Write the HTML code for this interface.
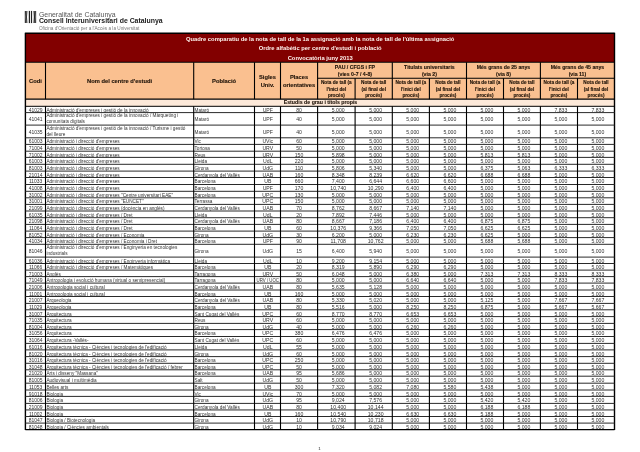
<!DOCTYPE html>
<html><head><meta charset="utf-8"><title>Quadre comparatiu</title><style>html,body{margin:0;padding:0;background:#fff;width:640px;height:452px;overflow:hidden;position:relative;font-family:"Liberation Sans",sans-serif}</style></head><body>
<svg width="640" height="452" viewBox="0 0 640 452" style="position:absolute;left:0;top:0;filter:blur(0.3px)">
<rect x="25.4" y="33.2" width="589.1" height="29.049999999999997" fill="#820000"/>
<rect x="25.4" y="62.25" width="589.1" height="36.900000000000006" fill="#fac090"/>
<rect x="25.4" y="99.15" width="589.1" height="7.1499999999999915" fill="#fde9d9"/>
<line x1="25.4" y1="33.20" x2="614.5" y2="33.20" stroke="#000" stroke-width="1.4"/>
<line x1="25.4" y1="62.25" x2="614.5" y2="62.25" stroke="#000" stroke-width="1.1"/>
<line x1="25.4" y1="99.15" x2="614.5" y2="99.15" stroke="#000" stroke-width="1.1"/>
<line x1="25.4" y1="32.70" x2="25.4" y2="430.10" stroke="#000" stroke-width="1.4"/>
<line x1="614.5" y1="32.70" x2="614.5" y2="430.10" stroke="#000" stroke-width="1.4"/>
<line x1="45.5" y1="62.25" x2="45.5" y2="99.15" stroke="#000" stroke-width="1.1"/>
<line x1="193.7" y1="62.25" x2="193.7" y2="99.15" stroke="#000" stroke-width="1.1"/>
<line x1="254.5" y1="62.25" x2="254.5" y2="99.15" stroke="#000" stroke-width="1.1"/>
<line x1="280.5" y1="62.25" x2="280.5" y2="99.15" stroke="#000" stroke-width="1.1"/>
<line x1="317.6" y1="62.25" x2="317.6" y2="99.15" stroke="#000" stroke-width="1.1"/>
<line x1="355.1" y1="78.20" x2="355.1" y2="99.15" stroke="#000" stroke-width="1.1"/>
<line x1="392.3" y1="62.25" x2="392.3" y2="99.15" stroke="#000" stroke-width="1.1"/>
<line x1="429.4" y1="78.20" x2="429.4" y2="99.15" stroke="#000" stroke-width="1.1"/>
<line x1="466.5" y1="62.25" x2="466.5" y2="99.15" stroke="#000" stroke-width="1.1"/>
<line x1="503.5" y1="78.20" x2="503.5" y2="99.15" stroke="#000" stroke-width="1.1"/>
<line x1="540.4" y1="62.25" x2="540.4" y2="99.15" stroke="#000" stroke-width="1.1"/>
<line x1="577.5" y1="78.20" x2="577.5" y2="99.15" stroke="#000" stroke-width="1.1"/>
<line x1="317.6" y1="78.20" x2="614.5" y2="78.20" stroke="#000" stroke-width="1.1"/>
<line x1="25.4" y1="106.30" x2="614.5" y2="106.30" stroke="#000" stroke-width="1.0"/>
<line x1="25.4" y1="112.60" x2="614.5" y2="112.60" stroke="#2a2a2a" stroke-width="1.0"/>
<line x1="25.4" y1="125.10" x2="614.5" y2="125.10" stroke="#2a2a2a" stroke-width="1.0"/>
<line x1="25.4" y1="137.80" x2="614.5" y2="137.80" stroke="#2a2a2a" stroke-width="1.0"/>
<line x1="25.4" y1="144.40" x2="614.5" y2="144.40" stroke="#2a2a2a" stroke-width="1.0"/>
<line x1="25.4" y1="151.20" x2="614.5" y2="151.20" stroke="#2a2a2a" stroke-width="1.0"/>
<line x1="25.4" y1="157.40" x2="614.5" y2="157.40" stroke="#2a2a2a" stroke-width="1.0"/>
<line x1="25.4" y1="164.30" x2="614.5" y2="164.30" stroke="#2a2a2a" stroke-width="1.0"/>
<line x1="25.4" y1="171.10" x2="614.5" y2="171.10" stroke="#2a2a2a" stroke-width="1.0"/>
<line x1="25.4" y1="177.50" x2="614.5" y2="177.50" stroke="#2a2a2a" stroke-width="1.0"/>
<line x1="25.4" y1="184.50" x2="614.5" y2="184.50" stroke="#2a2a2a" stroke-width="1.0"/>
<line x1="25.4" y1="191.30" x2="614.5" y2="191.30" stroke="#2a2a2a" stroke-width="1.0"/>
<line x1="25.4" y1="197.80" x2="614.5" y2="197.80" stroke="#2a2a2a" stroke-width="1.0"/>
<line x1="25.4" y1="204.40" x2="614.5" y2="204.40" stroke="#2a2a2a" stroke-width="1.0"/>
<line x1="25.4" y1="211.00" x2="614.5" y2="211.00" stroke="#2a2a2a" stroke-width="1.0"/>
<line x1="25.4" y1="217.70" x2="614.5" y2="217.70" stroke="#2a2a2a" stroke-width="1.0"/>
<line x1="25.4" y1="224.40" x2="614.5" y2="224.40" stroke="#2a2a2a" stroke-width="1.0"/>
<line x1="25.4" y1="231.10" x2="614.5" y2="231.10" stroke="#2a2a2a" stroke-width="1.0"/>
<line x1="25.4" y1="237.60" x2="614.5" y2="237.60" stroke="#2a2a2a" stroke-width="1.0"/>
<line x1="25.4" y1="244.30" x2="614.5" y2="244.30" stroke="#2a2a2a" stroke-width="1.0"/>
<line x1="25.4" y1="257.10" x2="614.5" y2="257.10" stroke="#2a2a2a" stroke-width="1.0"/>
<line x1="25.4" y1="263.50" x2="614.5" y2="263.50" stroke="#2a2a2a" stroke-width="1.0"/>
<line x1="25.4" y1="270.10" x2="614.5" y2="270.10" stroke="#2a2a2a" stroke-width="1.0"/>
<line x1="25.4" y1="276.60" x2="614.5" y2="276.60" stroke="#2a2a2a" stroke-width="1.0"/>
<line x1="25.4" y1="283.10" x2="614.5" y2="283.10" stroke="#2a2a2a" stroke-width="1.0"/>
<line x1="25.4" y1="290.00" x2="614.5" y2="290.00" stroke="#2a2a2a" stroke-width="1.0"/>
<line x1="25.4" y1="296.50" x2="614.5" y2="296.50" stroke="#2a2a2a" stroke-width="1.0"/>
<line x1="25.4" y1="303.40" x2="614.5" y2="303.40" stroke="#2a2a2a" stroke-width="1.0"/>
<line x1="25.4" y1="309.80" x2="614.5" y2="309.80" stroke="#2a2a2a" stroke-width="1.0"/>
<line x1="25.4" y1="316.60" x2="614.5" y2="316.60" stroke="#2a2a2a" stroke-width="1.0"/>
<line x1="25.4" y1="323.40" x2="614.5" y2="323.40" stroke="#2a2a2a" stroke-width="1.0"/>
<line x1="25.4" y1="329.60" x2="614.5" y2="329.60" stroke="#2a2a2a" stroke-width="1.0"/>
<line x1="25.4" y1="336.50" x2="614.5" y2="336.50" stroke="#2a2a2a" stroke-width="1.0"/>
<line x1="25.4" y1="343.40" x2="614.5" y2="343.40" stroke="#2a2a2a" stroke-width="1.0"/>
<line x1="25.4" y1="349.90" x2="614.5" y2="349.90" stroke="#2a2a2a" stroke-width="1.0"/>
<line x1="25.4" y1="356.60" x2="614.5" y2="356.60" stroke="#2a2a2a" stroke-width="1.0"/>
<line x1="25.4" y1="363.30" x2="614.5" y2="363.30" stroke="#2a2a2a" stroke-width="1.0"/>
<line x1="25.4" y1="369.80" x2="614.5" y2="369.80" stroke="#2a2a2a" stroke-width="1.0"/>
<line x1="25.4" y1="376.20" x2="614.5" y2="376.20" stroke="#2a2a2a" stroke-width="1.0"/>
<line x1="25.4" y1="383.20" x2="614.5" y2="383.20" stroke="#2a2a2a" stroke-width="1.0"/>
<line x1="25.4" y1="390.00" x2="614.5" y2="390.00" stroke="#2a2a2a" stroke-width="1.0"/>
<line x1="25.4" y1="396.40" x2="614.5" y2="396.40" stroke="#2a2a2a" stroke-width="1.0"/>
<line x1="25.4" y1="403.40" x2="614.5" y2="403.40" stroke="#2a2a2a" stroke-width="1.0"/>
<line x1="25.4" y1="409.95" x2="614.5" y2="409.95" stroke="#2a2a2a" stroke-width="1.0"/>
<line x1="25.4" y1="416.50" x2="614.5" y2="416.50" stroke="#2a2a2a" stroke-width="1.0"/>
<line x1="25.4" y1="423.10" x2="614.5" y2="423.10" stroke="#2a2a2a" stroke-width="1.0"/>
<line x1="25.4" y1="429.60" x2="614.5" y2="429.60" stroke="#000" stroke-width="1.4"/>
<line x1="45.5" y1="106.30" x2="45.5" y2="429.60" stroke="#000" stroke-width="1.1"/>
<line x1="193.7" y1="106.30" x2="193.7" y2="429.60" stroke="#000" stroke-width="1.1"/>
<line x1="254.5" y1="106.30" x2="254.5" y2="429.60" stroke="#000" stroke-width="1.1"/>
<line x1="280.5" y1="106.30" x2="280.5" y2="429.60" stroke="#000" stroke-width="1.1"/>
<line x1="317.6" y1="106.30" x2="317.6" y2="429.60" stroke="#000" stroke-width="1.1"/>
<line x1="355.1" y1="106.30" x2="355.1" y2="429.60" stroke="#000" stroke-width="1.1"/>
<line x1="392.3" y1="106.30" x2="392.3" y2="429.60" stroke="#000" stroke-width="1.1"/>
<line x1="429.4" y1="106.30" x2="429.4" y2="429.60" stroke="#000" stroke-width="1.1"/>
<line x1="466.5" y1="106.30" x2="466.5" y2="429.60" stroke="#000" stroke-width="1.1"/>
<line x1="503.5" y1="106.30" x2="503.5" y2="429.60" stroke="#000" stroke-width="1.1"/>
<line x1="540.4" y1="106.30" x2="540.4" y2="429.60" stroke="#000" stroke-width="1.1"/>
<line x1="577.5" y1="106.30" x2="577.5" y2="429.60" stroke="#000" stroke-width="1.1"/>
<g style="font-family:'Liberation Sans',sans-serif;font-weight:bold" fill="#fff2ec" font-size="5.8" text-anchor="middle">
<text x="320.2" y="41">Quadre comparatiu de la nota de tall de la 1a assignació amb la nota de tall de l'última assignació</text>
<text x="320.2" y="50.3">Ordre alfabètic per centre d'estudi i població</text>
<text x="320.2" y="60">Convocatòria juny 2013</text>
</g>
<g style="font-family:'Liberation Sans',sans-serif;font-weight:bold" fill="#1e1208" stroke="#1e1208" stroke-width="0.12" text-anchor="middle" font-size="5.75">
<text x="35.45" y="82.9">Codi</text>
<text x="119.60" y="82.9">Nom del centre d'estudi</text>
<text x="224.10" y="82.9">Població</text>
<text x="267.50" y="79.3">Sigles</text><text x="267.50" y="86.5">Univ.</text>
<text x="299.05" y="79.3">Places</text><text x="299.05" y="86.5">orientatives</text>
</g>
<g style="font-family:'Liberation Sans',sans-serif;font-weight:bold" fill="#1e1208" stroke="#1e1208" stroke-width="0.12" text-anchor="middle" font-size="5.2">
<text x="354.95" y="68.9">PAU / CFGS i FP</text><text x="354.95" y="76.0">(vies 0-7 / 4-8)</text>
<text x="429.40" y="68.9">Titulats universitaris</text><text x="429.40" y="76.0">(via 2)</text>
<text x="503.45" y="68.9">Més grans de 25 anys</text><text x="503.45" y="76.0">(via 8)</text>
<text x="577.45" y="68.9">Més grans de 45 anys</text><text x="577.45" y="76.0">(via 11)</text>
</g>
<g style="font-family:'Liberation Sans',sans-serif;font-weight:bold" fill="#1e1208" stroke="#1e1208" stroke-width="0.12" text-anchor="middle" font-size="4.7">
<text x="336.35" y="84.25">Nota de tall (a</text>
<text x="336.35" y="90.69">l'inici del</text>
<text x="336.35" y="97.13">procés)</text>
<text x="373.70" y="84.25">Nota de tall</text>
<text x="373.70" y="90.69">(al final del</text>
<text x="373.70" y="97.13">procés)</text>
<text x="410.85" y="84.25">Nota de tall (a</text>
<text x="410.85" y="90.69">l'inici del</text>
<text x="410.85" y="97.13">procés)</text>
<text x="447.95" y="84.25">Nota de tall</text>
<text x="447.95" y="90.69">(al final del</text>
<text x="447.95" y="97.13">procés)</text>
<text x="485.00" y="84.25">Nota de tall (a</text>
<text x="485.00" y="90.69">l'inici del</text>
<text x="485.00" y="97.13">procés)</text>
<text x="521.95" y="84.25">Nota de tall</text>
<text x="521.95" y="90.69">(al final del</text>
<text x="521.95" y="97.13">procés)</text>
<text x="558.95" y="84.25">Nota de tall (a</text>
<text x="558.95" y="90.69">l'inici del</text>
<text x="558.95" y="97.13">procés)</text>
<text x="596.00" y="84.25">Nota de tall</text>
<text x="596.00" y="90.69">(al final del</text>
<text x="596.00" y="97.13">procés)</text>
</g>
<text x="320.5" y="104.2" style="font-family:'Liberation Sans',sans-serif;font-weight:bold" fill="#1e1208" stroke="#1e1208" stroke-width="0.1" text-anchor="middle" font-size="5.24">Estudis de grau i títols propis</text>
<g style="font-family:'Liberation Sans',sans-serif" fill="#333" stroke="#333" stroke-width="0.0" font-size="4.7">
<text transform="translate(35.65,111.75) scale(1.06,1)" text-anchor="middle">41029</text>
<text x="46.4" y="111.75">Administració d'empreses i gestió de la innovació</text>
<text x="194.5" y="111.75">Mataró</text>
<text transform="translate(267.80,111.75) scale(1.1,1)" text-anchor="middle">UPF</text>
<text transform="translate(299.05,111.75) scale(1.1,1)" text-anchor="middle">80</text>
<text transform="translate(338.25,111.75) scale(1.1,1)" text-anchor="middle">5,000</text>
<text transform="translate(375.60,111.75) scale(1.1,1)" text-anchor="middle">5,000</text>
<text transform="translate(412.75,111.75) scale(1.1,1)" text-anchor="middle">5,000</text>
<text transform="translate(449.85,111.75) scale(1.1,1)" text-anchor="middle">5,000</text>
<text transform="translate(486.90,111.75) scale(1.1,1)" text-anchor="middle">5,000</text>
<text transform="translate(523.85,111.75) scale(1.1,1)" text-anchor="middle">5,000</text>
<text transform="translate(560.85,111.75) scale(1.1,1)" text-anchor="middle">7,833</text>
<text transform="translate(597.90,111.75) scale(1.1,1)" text-anchor="middle">7,833</text>
<text transform="translate(35.65,121.15) scale(1.06,1)" text-anchor="middle">41041</text>
<text x="46.4" y="117.38">Administració d'empreses i gestió de la innovació / Màrqueting i</text>
<text x="46.4" y="123.18">comunitats digitals</text>
<text x="194.5" y="121.15">Mataró</text>
<text transform="translate(267.80,121.15) scale(1.1,1)" text-anchor="middle">UPF</text>
<text transform="translate(299.05,121.15) scale(1.1,1)" text-anchor="middle">40</text>
<text transform="translate(338.25,121.15) scale(1.1,1)" text-anchor="middle">5,000</text>
<text transform="translate(375.60,121.15) scale(1.1,1)" text-anchor="middle">5,000</text>
<text transform="translate(412.75,121.15) scale(1.1,1)" text-anchor="middle">5,000</text>
<text transform="translate(449.85,121.15) scale(1.1,1)" text-anchor="middle">5,000</text>
<text transform="translate(486.90,121.15) scale(1.1,1)" text-anchor="middle">5,000</text>
<text transform="translate(523.85,121.15) scale(1.1,1)" text-anchor="middle">5,000</text>
<text transform="translate(560.85,121.15) scale(1.1,1)" text-anchor="middle">5,000</text>
<text transform="translate(597.90,121.15) scale(1.1,1)" text-anchor="middle">5,000</text>
<text transform="translate(35.65,133.75) scale(1.06,1)" text-anchor="middle">41035</text>
<text x="46.4" y="129.98">Administració d'empreses i gestió de la innovació / Turisme i gestió</text>
<text x="46.4" y="135.78">del lleure</text>
<text x="194.5" y="133.75">Mataró</text>
<text transform="translate(267.80,133.75) scale(1.1,1)" text-anchor="middle">UPF</text>
<text transform="translate(299.05,133.75) scale(1.1,1)" text-anchor="middle">40</text>
<text transform="translate(338.25,133.75) scale(1.1,1)" text-anchor="middle">5,000</text>
<text transform="translate(375.60,133.75) scale(1.1,1)" text-anchor="middle">5,000</text>
<text transform="translate(412.75,133.75) scale(1.1,1)" text-anchor="middle">5,000</text>
<text transform="translate(449.85,133.75) scale(1.1,1)" text-anchor="middle">5,000</text>
<text transform="translate(486.90,133.75) scale(1.1,1)" text-anchor="middle">5,000</text>
<text transform="translate(523.85,133.75) scale(1.1,1)" text-anchor="middle">5,000</text>
<text transform="translate(560.85,133.75) scale(1.1,1)" text-anchor="middle">5,000</text>
<text transform="translate(597.90,133.75) scale(1.1,1)" text-anchor="middle">5,000</text>
<text transform="translate(35.65,143.40) scale(1.06,1)" text-anchor="middle">61003</text>
<text x="46.4" y="143.40">Administració i direcció d'empreses</text>
<text x="194.5" y="143.40">Vic</text>
<text transform="translate(267.80,143.40) scale(1.1,1)" text-anchor="middle">UVic</text>
<text transform="translate(299.05,143.40) scale(1.1,1)" text-anchor="middle">60</text>
<text transform="translate(338.25,143.40) scale(1.1,1)" text-anchor="middle">5,000</text>
<text transform="translate(375.60,143.40) scale(1.1,1)" text-anchor="middle">5,000</text>
<text transform="translate(412.75,143.40) scale(1.1,1)" text-anchor="middle">5,000</text>
<text transform="translate(449.85,143.40) scale(1.1,1)" text-anchor="middle">5,000</text>
<text transform="translate(486.90,143.40) scale(1.1,1)" text-anchor="middle">5,000</text>
<text transform="translate(523.85,143.40) scale(1.1,1)" text-anchor="middle">5,000</text>
<text transform="translate(560.85,143.40) scale(1.1,1)" text-anchor="middle">5,000</text>
<text transform="translate(597.90,143.40) scale(1.1,1)" text-anchor="middle">5,000</text>
<text transform="translate(35.65,150.10) scale(1.06,1)" text-anchor="middle">71004</text>
<text x="46.4" y="150.10">Administració i direcció d'empreses</text>
<text x="194.5" y="150.10">Tortosa</text>
<text transform="translate(267.80,150.10) scale(1.1,1)" text-anchor="middle">URV</text>
<text transform="translate(299.05,150.10) scale(1.1,1)" text-anchor="middle">50</text>
<text transform="translate(338.25,150.10) scale(1.1,1)" text-anchor="middle">5,000</text>
<text transform="translate(375.60,150.10) scale(1.1,1)" text-anchor="middle">5,000</text>
<text transform="translate(412.75,150.10) scale(1.1,1)" text-anchor="middle">5,000</text>
<text transform="translate(449.85,150.10) scale(1.1,1)" text-anchor="middle">5,000</text>
<text transform="translate(486.90,150.10) scale(1.1,1)" text-anchor="middle">5,000</text>
<text transform="translate(523.85,150.10) scale(1.1,1)" text-anchor="middle">5,000</text>
<text transform="translate(560.85,150.10) scale(1.1,1)" text-anchor="middle">5,000</text>
<text transform="translate(597.90,150.10) scale(1.1,1)" text-anchor="middle">5,000</text>
<text transform="translate(35.65,156.60) scale(1.06,1)" text-anchor="middle">71002</text>
<text x="46.4" y="156.60">Administració i direcció d'empreses</text>
<text x="194.5" y="156.60">Reus</text>
<text transform="translate(267.80,156.60) scale(1.1,1)" text-anchor="middle">URV</text>
<text transform="translate(299.05,156.60) scale(1.1,1)" text-anchor="middle">150</text>
<text transform="translate(338.25,156.60) scale(1.1,1)" text-anchor="middle">5,898</text>
<text transform="translate(375.60,156.60) scale(1.1,1)" text-anchor="middle">5,000</text>
<text transform="translate(412.75,156.60) scale(1.1,1)" text-anchor="middle">5,000</text>
<text transform="translate(449.85,156.60) scale(1.1,1)" text-anchor="middle">5,000</text>
<text transform="translate(486.90,156.60) scale(1.1,1)" text-anchor="middle">5,813</text>
<text transform="translate(523.85,156.60) scale(1.1,1)" text-anchor="middle">5,813</text>
<text transform="translate(560.85,156.60) scale(1.1,1)" text-anchor="middle">5,000</text>
<text transform="translate(597.90,156.60) scale(1.1,1)" text-anchor="middle">5,000</text>
<text transform="translate(35.65,163.15) scale(1.06,1)" text-anchor="middle">61003</text>
<text x="46.4" y="163.15">Administració i direcció d'empreses</text>
<text x="194.5" y="163.15">Lleida</text>
<text transform="translate(267.80,163.15) scale(1.1,1)" text-anchor="middle">UdL</text>
<text transform="translate(299.05,163.15) scale(1.1,1)" text-anchor="middle">220</text>
<text transform="translate(338.25,163.15) scale(1.1,1)" text-anchor="middle">5,000</text>
<text transform="translate(375.60,163.15) scale(1.1,1)" text-anchor="middle">5,000</text>
<text transform="translate(412.75,163.15) scale(1.1,1)" text-anchor="middle">5,000</text>
<text transform="translate(449.85,163.15) scale(1.1,1)" text-anchor="middle">5,000</text>
<text transform="translate(486.90,163.15) scale(1.1,1)" text-anchor="middle">5,000</text>
<text transform="translate(523.85,163.15) scale(1.1,1)" text-anchor="middle">5,000</text>
<text transform="translate(560.85,163.15) scale(1.1,1)" text-anchor="middle">5,000</text>
<text transform="translate(597.90,163.15) scale(1.1,1)" text-anchor="middle">5,000</text>
<text transform="translate(35.65,170.00) scale(1.06,1)" text-anchor="middle">81003</text>
<text x="46.4" y="170.00">Administració i direcció d'empreses</text>
<text x="194.5" y="170.00">Girona</text>
<text transform="translate(267.80,170.00) scale(1.1,1)" text-anchor="middle">UdG</text>
<text transform="translate(299.05,170.00) scale(1.1,1)" text-anchor="middle">110</text>
<text transform="translate(338.25,170.00) scale(1.1,1)" text-anchor="middle">5,806</text>
<text transform="translate(375.60,170.00) scale(1.1,1)" text-anchor="middle">5,340</text>
<text transform="translate(412.75,170.00) scale(1.1,1)" text-anchor="middle">5,000</text>
<text transform="translate(449.85,170.00) scale(1.1,1)" text-anchor="middle">5,000</text>
<text transform="translate(486.90,170.00) scale(1.1,1)" text-anchor="middle">6,375</text>
<text transform="translate(523.85,170.00) scale(1.1,1)" text-anchor="middle">5,063</text>
<text transform="translate(560.85,170.00) scale(1.1,1)" text-anchor="middle">6,333</text>
<text transform="translate(597.90,170.00) scale(1.1,1)" text-anchor="middle">6,333</text>
<text transform="translate(35.65,176.60) scale(1.06,1)" text-anchor="middle">21014</text>
<text x="46.4" y="176.60">Administració i direcció d'empreses</text>
<text x="194.5" y="176.60">Cerdanyola del Vallès</text>
<text transform="translate(267.80,176.60) scale(1.1,1)" text-anchor="middle">UAB</text>
<text transform="translate(299.05,176.60) scale(1.1,1)" text-anchor="middle">160</text>
<text transform="translate(338.25,176.60) scale(1.1,1)" text-anchor="middle">8,348</text>
<text transform="translate(375.60,176.60) scale(1.1,1)" text-anchor="middle">8,239</text>
<text transform="translate(412.75,176.60) scale(1.1,1)" text-anchor="middle">6,620</text>
<text transform="translate(449.85,176.60) scale(1.1,1)" text-anchor="middle">6,620</text>
<text transform="translate(486.90,176.60) scale(1.1,1)" text-anchor="middle">6,688</text>
<text transform="translate(523.85,176.60) scale(1.1,1)" text-anchor="middle">6,688</text>
<text transform="translate(560.85,176.60) scale(1.1,1)" text-anchor="middle">5,000</text>
<text transform="translate(597.90,176.60) scale(1.1,1)" text-anchor="middle">5,000</text>
<text transform="translate(35.65,183.30) scale(1.06,1)" text-anchor="middle">11033</text>
<text x="46.4" y="183.30">Administració i direcció d'empreses</text>
<text x="194.5" y="183.30">Barcelona</text>
<text transform="translate(267.80,183.30) scale(1.1,1)" text-anchor="middle">UB</text>
<text transform="translate(299.05,183.30) scale(1.1,1)" text-anchor="middle">660</text>
<text transform="translate(338.25,183.30) scale(1.1,1)" text-anchor="middle">7,400</text>
<text transform="translate(375.60,183.30) scale(1.1,1)" text-anchor="middle">6,644</text>
<text transform="translate(412.75,183.30) scale(1.1,1)" text-anchor="middle">6,600</text>
<text transform="translate(449.85,183.30) scale(1.1,1)" text-anchor="middle">6,600</text>
<text transform="translate(486.90,183.30) scale(1.1,1)" text-anchor="middle">5,000</text>
<text transform="translate(523.85,183.30) scale(1.1,1)" text-anchor="middle">5,000</text>
<text transform="translate(560.85,183.30) scale(1.1,1)" text-anchor="middle">5,000</text>
<text transform="translate(597.90,183.30) scale(1.1,1)" text-anchor="middle">5,000</text>
<text transform="translate(35.65,190.20) scale(1.06,1)" text-anchor="middle">41008</text>
<text x="46.4" y="190.20">Administració i direcció d'empreses</text>
<text x="194.5" y="190.20">Barcelona</text>
<text transform="translate(267.80,190.20) scale(1.1,1)" text-anchor="middle">UPF</text>
<text transform="translate(299.05,190.20) scale(1.1,1)" text-anchor="middle">170</text>
<text transform="translate(338.25,190.20) scale(1.1,1)" text-anchor="middle">10,740</text>
<text transform="translate(375.60,190.20) scale(1.1,1)" text-anchor="middle">10,290</text>
<text transform="translate(412.75,190.20) scale(1.1,1)" text-anchor="middle">6,400</text>
<text transform="translate(449.85,190.20) scale(1.1,1)" text-anchor="middle">6,400</text>
<text transform="translate(486.90,190.20) scale(1.1,1)" text-anchor="middle">5,000</text>
<text transform="translate(523.85,190.20) scale(1.1,1)" text-anchor="middle">5,000</text>
<text transform="translate(560.85,190.20) scale(1.1,1)" text-anchor="middle">5,000</text>
<text transform="translate(597.90,190.20) scale(1.1,1)" text-anchor="middle">5,000</text>
<text transform="translate(35.65,196.85) scale(1.06,1)" text-anchor="middle">31002</text>
<text x="46.4" y="196.85">Administració i direcció d'empreses "Centre universitari EAE"</text>
<text x="194.5" y="196.85">Barcelona</text>
<text transform="translate(267.80,196.85) scale(1.1,1)" text-anchor="middle">UPC</text>
<text transform="translate(299.05,196.85) scale(1.1,1)" text-anchor="middle">130</text>
<text transform="translate(338.25,196.85) scale(1.1,1)" text-anchor="middle">5,000</text>
<text transform="translate(375.60,196.85) scale(1.1,1)" text-anchor="middle">5,000</text>
<text transform="translate(412.75,196.85) scale(1.1,1)" text-anchor="middle">5,000</text>
<text transform="translate(449.85,196.85) scale(1.1,1)" text-anchor="middle">5,000</text>
<text transform="translate(486.90,196.85) scale(1.1,1)" text-anchor="middle">5,000</text>
<text transform="translate(523.85,196.85) scale(1.1,1)" text-anchor="middle">5,000</text>
<text transform="translate(560.85,196.85) scale(1.1,1)" text-anchor="middle">5,000</text>
<text transform="translate(597.90,196.85) scale(1.1,1)" text-anchor="middle">5,000</text>
<text transform="translate(35.65,203.40) scale(1.06,1)" text-anchor="middle">31001</text>
<text x="46.4" y="203.40">Administració i direcció d'empreses "EUNCET"</text>
<text x="194.5" y="203.40">Terrassa</text>
<text transform="translate(267.80,203.40) scale(1.1,1)" text-anchor="middle">UPC</text>
<text transform="translate(299.05,203.40) scale(1.1,1)" text-anchor="middle">150</text>
<text transform="translate(338.25,203.40) scale(1.1,1)" text-anchor="middle">5,000</text>
<text transform="translate(375.60,203.40) scale(1.1,1)" text-anchor="middle">5,000</text>
<text transform="translate(412.75,203.40) scale(1.1,1)" text-anchor="middle">5,000</text>
<text transform="translate(449.85,203.40) scale(1.1,1)" text-anchor="middle">5,000</text>
<text transform="translate(486.90,203.40) scale(1.1,1)" text-anchor="middle">5,000</text>
<text transform="translate(523.85,203.40) scale(1.1,1)" text-anchor="middle">5,000</text>
<text transform="translate(560.85,203.40) scale(1.1,1)" text-anchor="middle">5,000</text>
<text transform="translate(597.90,203.40) scale(1.1,1)" text-anchor="middle">5,000</text>
<text transform="translate(35.65,210.00) scale(1.06,1)" text-anchor="middle">21099</text>
<text x="46.4" y="210.00">Administració i direcció d'empreses (docència en anglès)</text>
<text x="194.5" y="210.00">Cerdanyola del Vallès</text>
<text transform="translate(267.80,210.00) scale(1.1,1)" text-anchor="middle">UAB</text>
<text transform="translate(299.05,210.00) scale(1.1,1)" text-anchor="middle">70</text>
<text transform="translate(338.25,210.00) scale(1.1,1)" text-anchor="middle">8,762</text>
<text transform="translate(375.60,210.00) scale(1.1,1)" text-anchor="middle">8,667</text>
<text transform="translate(412.75,210.00) scale(1.1,1)" text-anchor="middle">7,140</text>
<text transform="translate(449.85,210.00) scale(1.1,1)" text-anchor="middle">7,140</text>
<text transform="translate(486.90,210.00) scale(1.1,1)" text-anchor="middle">5,000</text>
<text transform="translate(523.85,210.00) scale(1.1,1)" text-anchor="middle">5,000</text>
<text transform="translate(560.85,210.00) scale(1.1,1)" text-anchor="middle">5,000</text>
<text transform="translate(597.90,210.00) scale(1.1,1)" text-anchor="middle">5,000</text>
<text transform="translate(35.65,216.65) scale(1.06,1)" text-anchor="middle">61035</text>
<text x="46.4" y="216.65">Administració i direcció d'empreses / Dret</text>
<text x="194.5" y="216.65">Lleida</text>
<text transform="translate(267.80,216.65) scale(1.1,1)" text-anchor="middle">UdL</text>
<text transform="translate(299.05,216.65) scale(1.1,1)" text-anchor="middle">20</text>
<text transform="translate(338.25,216.65) scale(1.1,1)" text-anchor="middle">7,892</text>
<text transform="translate(375.60,216.65) scale(1.1,1)" text-anchor="middle">7,446</text>
<text transform="translate(412.75,216.65) scale(1.1,1)" text-anchor="middle">5,000</text>
<text transform="translate(449.85,216.65) scale(1.1,1)" text-anchor="middle">5,000</text>
<text transform="translate(486.90,216.65) scale(1.1,1)" text-anchor="middle">5,000</text>
<text transform="translate(523.85,216.65) scale(1.1,1)" text-anchor="middle">5,000</text>
<text transform="translate(560.85,216.65) scale(1.1,1)" text-anchor="middle">5,000</text>
<text transform="translate(597.90,216.65) scale(1.1,1)" text-anchor="middle">5,000</text>
<text transform="translate(35.65,223.35) scale(1.06,1)" text-anchor="middle">21098</text>
<text x="46.4" y="223.35">Administració i direcció d'empreses / Dret</text>
<text x="194.5" y="223.35">Cerdanyola del Vallès</text>
<text transform="translate(267.80,223.35) scale(1.1,1)" text-anchor="middle">UAB</text>
<text transform="translate(299.05,223.35) scale(1.1,1)" text-anchor="middle">80</text>
<text transform="translate(338.25,223.35) scale(1.1,1)" text-anchor="middle">8,667</text>
<text transform="translate(375.60,223.35) scale(1.1,1)" text-anchor="middle">7,186</text>
<text transform="translate(412.75,223.35) scale(1.1,1)" text-anchor="middle">6,400</text>
<text transform="translate(449.85,223.35) scale(1.1,1)" text-anchor="middle">6,400</text>
<text transform="translate(486.90,223.35) scale(1.1,1)" text-anchor="middle">6,875</text>
<text transform="translate(523.85,223.35) scale(1.1,1)" text-anchor="middle">6,875</text>
<text transform="translate(560.85,223.35) scale(1.1,1)" text-anchor="middle">5,000</text>
<text transform="translate(597.90,223.35) scale(1.1,1)" text-anchor="middle">5,000</text>
<text transform="translate(35.65,230.05) scale(1.06,1)" text-anchor="middle">11064</text>
<text x="46.4" y="230.05">Administració i direcció d'empreses / Dret</text>
<text x="194.5" y="230.05">Barcelona</text>
<text transform="translate(267.80,230.05) scale(1.1,1)" text-anchor="middle">UB</text>
<text transform="translate(299.05,230.05) scale(1.1,1)" text-anchor="middle">60</text>
<text transform="translate(338.25,230.05) scale(1.1,1)" text-anchor="middle">10,376</text>
<text transform="translate(375.60,230.05) scale(1.1,1)" text-anchor="middle">9,366</text>
<text transform="translate(412.75,230.05) scale(1.1,1)" text-anchor="middle">7,050</text>
<text transform="translate(449.85,230.05) scale(1.1,1)" text-anchor="middle">7,050</text>
<text transform="translate(486.90,230.05) scale(1.1,1)" text-anchor="middle">6,625</text>
<text transform="translate(523.85,230.05) scale(1.1,1)" text-anchor="middle">6,625</text>
<text transform="translate(560.85,230.05) scale(1.1,1)" text-anchor="middle">5,000</text>
<text transform="translate(597.90,230.05) scale(1.1,1)" text-anchor="middle">5,000</text>
<text transform="translate(35.65,236.65) scale(1.06,1)" text-anchor="middle">81052</text>
<text x="46.4" y="236.65">Administració i direcció d'empreses / Economia</text>
<text x="194.5" y="236.65">Girona</text>
<text transform="translate(267.80,236.65) scale(1.1,1)" text-anchor="middle">UdG</text>
<text transform="translate(299.05,236.65) scale(1.1,1)" text-anchor="middle">30</text>
<text transform="translate(338.25,236.65) scale(1.1,1)" text-anchor="middle">6,200</text>
<text transform="translate(375.60,236.65) scale(1.1,1)" text-anchor="middle">5,000</text>
<text transform="translate(412.75,236.65) scale(1.1,1)" text-anchor="middle">6,230</text>
<text transform="translate(449.85,236.65) scale(1.1,1)" text-anchor="middle">6,230</text>
<text transform="translate(486.90,236.65) scale(1.1,1)" text-anchor="middle">6,625</text>
<text transform="translate(523.85,236.65) scale(1.1,1)" text-anchor="middle">5,000</text>
<text transform="translate(560.85,236.65) scale(1.1,1)" text-anchor="middle">5,000</text>
<text transform="translate(597.90,236.65) scale(1.1,1)" text-anchor="middle">5,000</text>
<text transform="translate(35.65,243.25) scale(1.06,1)" text-anchor="middle">41034</text>
<text x="46.4" y="243.25">Administració i direcció d'empreses / Economia i Dret</text>
<text x="194.5" y="243.25">Barcelona</text>
<text transform="translate(267.80,243.25) scale(1.1,1)" text-anchor="middle">UPF</text>
<text transform="translate(299.05,243.25) scale(1.1,1)" text-anchor="middle">90</text>
<text transform="translate(338.25,243.25) scale(1.1,1)" text-anchor="middle">11,708</text>
<text transform="translate(375.60,243.25) scale(1.1,1)" text-anchor="middle">10,762</text>
<text transform="translate(412.75,243.25) scale(1.1,1)" text-anchor="middle">5,000</text>
<text transform="translate(449.85,243.25) scale(1.1,1)" text-anchor="middle">5,000</text>
<text transform="translate(486.90,243.25) scale(1.1,1)" text-anchor="middle">5,688</text>
<text transform="translate(523.85,243.25) scale(1.1,1)" text-anchor="middle">5,688</text>
<text transform="translate(560.85,243.25) scale(1.1,1)" text-anchor="middle">5,000</text>
<text transform="translate(597.90,243.25) scale(1.1,1)" text-anchor="middle">5,000</text>
<text transform="translate(35.65,253.00) scale(1.06,1)" text-anchor="middle">81046</text>
<text x="46.4" y="249.23">Administració i direcció d'empreses / Enginyeria en tecnologies</text>
<text x="46.4" y="255.03">industrials</text>
<text x="194.5" y="253.00">Girona</text>
<text transform="translate(267.80,253.00) scale(1.1,1)" text-anchor="middle">UdG</text>
<text transform="translate(299.05,253.00) scale(1.1,1)" text-anchor="middle">15</text>
<text transform="translate(338.25,253.00) scale(1.1,1)" text-anchor="middle">6,400</text>
<text transform="translate(375.60,253.00) scale(1.1,1)" text-anchor="middle">5,940</text>
<text transform="translate(412.75,253.00) scale(1.1,1)" text-anchor="middle">5,000</text>
<text transform="translate(449.85,253.00) scale(1.1,1)" text-anchor="middle">5,000</text>
<text transform="translate(486.90,253.00) scale(1.1,1)" text-anchor="middle">5,000</text>
<text transform="translate(523.85,253.00) scale(1.1,1)" text-anchor="middle">5,000</text>
<text transform="translate(560.85,253.00) scale(1.1,1)" text-anchor="middle">5,000</text>
<text transform="translate(597.90,253.00) scale(1.1,1)" text-anchor="middle">5,000</text>
<text transform="translate(35.65,262.60) scale(1.06,1)" text-anchor="middle">61036</text>
<text x="46.4" y="262.60">Administració i direcció d'empreses / Enginyeria informàtica</text>
<text x="194.5" y="262.60">Lleida</text>
<text transform="translate(267.80,262.60) scale(1.1,1)" text-anchor="middle">UdL</text>
<text transform="translate(299.05,262.60) scale(1.1,1)" text-anchor="middle">10</text>
<text transform="translate(338.25,262.60) scale(1.1,1)" text-anchor="middle">9,200</text>
<text transform="translate(375.60,262.60) scale(1.1,1)" text-anchor="middle">9,154</text>
<text transform="translate(412.75,262.60) scale(1.1,1)" text-anchor="middle">5,000</text>
<text transform="translate(449.85,262.60) scale(1.1,1)" text-anchor="middle">5,000</text>
<text transform="translate(486.90,262.60) scale(1.1,1)" text-anchor="middle">5,000</text>
<text transform="translate(523.85,262.60) scale(1.1,1)" text-anchor="middle">5,000</text>
<text transform="translate(560.85,262.60) scale(1.1,1)" text-anchor="middle">5,000</text>
<text transform="translate(597.90,262.60) scale(1.1,1)" text-anchor="middle">5,000</text>
<text transform="translate(35.65,269.10) scale(1.06,1)" text-anchor="middle">11066</text>
<text x="46.4" y="269.10">Administració i direcció d'empreses / Matemàtiques</text>
<text x="194.5" y="269.10">Barcelona</text>
<text transform="translate(267.80,269.10) scale(1.1,1)" text-anchor="middle">UB</text>
<text transform="translate(299.05,269.10) scale(1.1,1)" text-anchor="middle">20</text>
<text transform="translate(338.25,269.10) scale(1.1,1)" text-anchor="middle">8,319</text>
<text transform="translate(375.60,269.10) scale(1.1,1)" text-anchor="middle">5,890</text>
<text transform="translate(412.75,269.10) scale(1.1,1)" text-anchor="middle">6,290</text>
<text transform="translate(449.85,269.10) scale(1.1,1)" text-anchor="middle">6,290</text>
<text transform="translate(486.90,269.10) scale(1.1,1)" text-anchor="middle">5,000</text>
<text transform="translate(523.85,269.10) scale(1.1,1)" text-anchor="middle">5,000</text>
<text transform="translate(560.85,269.10) scale(1.1,1)" text-anchor="middle">5,000</text>
<text transform="translate(597.90,269.10) scale(1.1,1)" text-anchor="middle">5,000</text>
<text transform="translate(35.65,275.65) scale(1.06,1)" text-anchor="middle">71003</text>
<text x="46.4" y="275.65">Anglès</text>
<text x="194.5" y="275.65">Tarragona</text>
<text transform="translate(267.80,275.65) scale(1.1,1)" text-anchor="middle">URV</text>
<text transform="translate(299.05,275.65) scale(1.1,1)" text-anchor="middle">50</text>
<text transform="translate(338.25,275.65) scale(1.1,1)" text-anchor="middle">6,048</text>
<text transform="translate(375.60,275.65) scale(1.1,1)" text-anchor="middle">5,000</text>
<text transform="translate(412.75,275.65) scale(1.1,1)" text-anchor="middle">6,380</text>
<text transform="translate(449.85,275.65) scale(1.1,1)" text-anchor="middle">5,000</text>
<text transform="translate(486.90,275.65) scale(1.1,1)" text-anchor="middle">7,313</text>
<text transform="translate(523.85,275.65) scale(1.1,1)" text-anchor="middle">7,313</text>
<text transform="translate(560.85,275.65) scale(1.1,1)" text-anchor="middle">8,333</text>
<text transform="translate(597.90,275.65) scale(1.1,1)" text-anchor="middle">8,333</text>
<text transform="translate(35.65,282.15) scale(1.06,1)" text-anchor="middle">71049</text>
<text x="46.4" y="282.15">Antropologia i evolució humana (virtual o semipresencial)</text>
<text x="194.5" y="282.15">Tarragona</text>
<text transform="translate(267.80,282.15) scale(0.93,1)" text-anchor="middle">URV / UOC</text>
<text transform="translate(299.05,282.15) scale(1.1,1)" text-anchor="middle">80</text>
<text transform="translate(338.25,282.15) scale(1.1,1)" text-anchor="middle">5,000</text>
<text transform="translate(375.60,282.15) scale(1.1,1)" text-anchor="middle">5,000</text>
<text transform="translate(412.75,282.15) scale(1.1,1)" text-anchor="middle">6,640</text>
<text transform="translate(449.85,282.15) scale(1.1,1)" text-anchor="middle">6,640</text>
<text transform="translate(486.90,282.15) scale(1.1,1)" text-anchor="middle">5,000</text>
<text transform="translate(523.85,282.15) scale(1.1,1)" text-anchor="middle">5,000</text>
<text transform="translate(560.85,282.15) scale(1.1,1)" text-anchor="middle">7,833</text>
<text transform="translate(597.90,282.15) scale(1.1,1)" text-anchor="middle">7,833</text>
<text transform="translate(35.65,288.85) scale(1.06,1)" text-anchor="middle">21006</text>
<text x="46.4" y="288.85">Antropologia social i cultural</text>
<text x="194.5" y="288.85">Cerdanyola del Vallès</text>
<text transform="translate(267.80,288.85) scale(1.1,1)" text-anchor="middle">UAB</text>
<text transform="translate(299.05,288.85) scale(1.1,1)" text-anchor="middle">80</text>
<text transform="translate(338.25,288.85) scale(1.1,1)" text-anchor="middle">5,635</text>
<text transform="translate(375.60,288.85) scale(1.1,1)" text-anchor="middle">5,128</text>
<text transform="translate(412.75,288.85) scale(1.1,1)" text-anchor="middle">5,000</text>
<text transform="translate(449.85,288.85) scale(1.1,1)" text-anchor="middle">5,000</text>
<text transform="translate(486.90,288.85) scale(1.1,1)" text-anchor="middle">5,000</text>
<text transform="translate(523.85,288.85) scale(1.1,1)" text-anchor="middle">5,000</text>
<text transform="translate(560.85,288.85) scale(1.1,1)" text-anchor="middle">5,000</text>
<text transform="translate(597.90,288.85) scale(1.1,1)" text-anchor="middle">5,000</text>
<text transform="translate(35.65,295.55) scale(1.06,1)" text-anchor="middle">11001</text>
<text x="46.4" y="295.55">Antropologia social i cultural</text>
<text x="194.5" y="295.55">Barcelona</text>
<text transform="translate(267.80,295.55) scale(1.1,1)" text-anchor="middle">UB</text>
<text transform="translate(299.05,295.55) scale(1.1,1)" text-anchor="middle">160</text>
<text transform="translate(338.25,295.55) scale(1.1,1)" text-anchor="middle">5,000</text>
<text transform="translate(375.60,295.55) scale(1.1,1)" text-anchor="middle">5,000</text>
<text transform="translate(412.75,295.55) scale(1.1,1)" text-anchor="middle">5,000</text>
<text transform="translate(449.85,295.55) scale(1.1,1)" text-anchor="middle">5,000</text>
<text transform="translate(486.90,295.55) scale(1.1,1)" text-anchor="middle">5,000</text>
<text transform="translate(523.85,295.55) scale(1.1,1)" text-anchor="middle">5,000</text>
<text transform="translate(560.85,295.55) scale(1.1,1)" text-anchor="middle">5,000</text>
<text transform="translate(597.90,295.55) scale(1.1,1)" text-anchor="middle">5,000</text>
<text transform="translate(35.65,302.25) scale(1.06,1)" text-anchor="middle">21007</text>
<text x="46.4" y="302.25">Arqueologia</text>
<text x="194.5" y="302.25">Cerdanyola del Vallès</text>
<text transform="translate(267.80,302.25) scale(1.1,1)" text-anchor="middle">UAB</text>
<text transform="translate(299.05,302.25) scale(1.1,1)" text-anchor="middle">80</text>
<text transform="translate(338.25,302.25) scale(1.1,1)" text-anchor="middle">5,330</text>
<text transform="translate(375.60,302.25) scale(1.1,1)" text-anchor="middle">5,020</text>
<text transform="translate(412.75,302.25) scale(1.1,1)" text-anchor="middle">5,000</text>
<text transform="translate(449.85,302.25) scale(1.1,1)" text-anchor="middle">5,000</text>
<text transform="translate(486.90,302.25) scale(1.1,1)" text-anchor="middle">5,125</text>
<text transform="translate(523.85,302.25) scale(1.1,1)" text-anchor="middle">5,000</text>
<text transform="translate(560.85,302.25) scale(1.1,1)" text-anchor="middle">7,667</text>
<text transform="translate(597.90,302.25) scale(1.1,1)" text-anchor="middle">7,667</text>
<text transform="translate(35.65,308.90) scale(1.06,1)" text-anchor="middle">11029</text>
<text x="46.4" y="308.90">Arqueologia</text>
<text x="194.5" y="308.90">Barcelona</text>
<text transform="translate(267.80,308.90) scale(1.1,1)" text-anchor="middle">UB</text>
<text transform="translate(299.05,308.90) scale(1.1,1)" text-anchor="middle">80</text>
<text transform="translate(338.25,308.90) scale(1.1,1)" text-anchor="middle">5,516</text>
<text transform="translate(375.60,308.90) scale(1.1,1)" text-anchor="middle">5,000</text>
<text transform="translate(412.75,308.90) scale(1.1,1)" text-anchor="middle">8,250</text>
<text transform="translate(449.85,308.90) scale(1.1,1)" text-anchor="middle">8,250</text>
<text transform="translate(486.90,308.90) scale(1.1,1)" text-anchor="middle">6,875</text>
<text transform="translate(523.85,308.90) scale(1.1,1)" text-anchor="middle">5,000</text>
<text transform="translate(560.85,308.90) scale(1.1,1)" text-anchor="middle">5,667</text>
<text transform="translate(597.90,308.90) scale(1.1,1)" text-anchor="middle">5,667</text>
<text transform="translate(35.65,315.50) scale(1.06,1)" text-anchor="middle">31007</text>
<text x="46.4" y="315.50">Arquitectura</text>
<text x="194.5" y="315.50">Sant Cugat del Vallès</text>
<text transform="translate(267.80,315.50) scale(1.1,1)" text-anchor="middle">UPC</text>
<text transform="translate(299.05,315.50) scale(1.1,1)" text-anchor="middle">60</text>
<text transform="translate(338.25,315.50) scale(1.1,1)" text-anchor="middle">8,770</text>
<text transform="translate(375.60,315.50) scale(1.1,1)" text-anchor="middle">8,770</text>
<text transform="translate(412.75,315.50) scale(1.1,1)" text-anchor="middle">6,653</text>
<text transform="translate(449.85,315.50) scale(1.1,1)" text-anchor="middle">6,653</text>
<text transform="translate(486.90,315.50) scale(1.1,1)" text-anchor="middle">5,000</text>
<text transform="translate(523.85,315.50) scale(1.1,1)" text-anchor="middle">5,000</text>
<text transform="translate(560.85,315.50) scale(1.1,1)" text-anchor="middle">5,000</text>
<text transform="translate(597.90,315.50) scale(1.1,1)" text-anchor="middle">5,000</text>
<text transform="translate(35.65,322.30) scale(1.06,1)" text-anchor="middle">71035</text>
<text x="46.4" y="322.30">Arquitectura</text>
<text x="194.5" y="322.30">Reus</text>
<text transform="translate(267.80,322.30) scale(1.1,1)" text-anchor="middle">URV</text>
<text transform="translate(299.05,322.30) scale(1.1,1)" text-anchor="middle">60</text>
<text transform="translate(338.25,322.30) scale(1.1,1)" text-anchor="middle">5,000</text>
<text transform="translate(375.60,322.30) scale(1.1,1)" text-anchor="middle">5,000</text>
<text transform="translate(412.75,322.30) scale(1.1,1)" text-anchor="middle">5,000</text>
<text transform="translate(449.85,322.30) scale(1.1,1)" text-anchor="middle">5,000</text>
<text transform="translate(486.90,322.30) scale(1.1,1)" text-anchor="middle">5,000</text>
<text transform="translate(523.85,322.30) scale(1.1,1)" text-anchor="middle">5,000</text>
<text transform="translate(560.85,322.30) scale(1.1,1)" text-anchor="middle">5,000</text>
<text transform="translate(597.90,322.30) scale(1.1,1)" text-anchor="middle">5,000</text>
<text transform="translate(35.65,328.80) scale(1.06,1)" text-anchor="middle">81004</text>
<text x="46.4" y="328.80">Arquitectura</text>
<text x="194.5" y="328.80">Girona</text>
<text transform="translate(267.80,328.80) scale(1.1,1)" text-anchor="middle">UdG</text>
<text transform="translate(299.05,328.80) scale(1.1,1)" text-anchor="middle">40</text>
<text transform="translate(338.25,328.80) scale(1.1,1)" text-anchor="middle">5,000</text>
<text transform="translate(375.60,328.80) scale(1.1,1)" text-anchor="middle">5,000</text>
<text transform="translate(412.75,328.80) scale(1.1,1)" text-anchor="middle">6,260</text>
<text transform="translate(449.85,328.80) scale(1.1,1)" text-anchor="middle">6,260</text>
<text transform="translate(486.90,328.80) scale(1.1,1)" text-anchor="middle">5,000</text>
<text transform="translate(523.85,328.80) scale(1.1,1)" text-anchor="middle">5,000</text>
<text transform="translate(560.85,328.80) scale(1.1,1)" text-anchor="middle">5,000</text>
<text transform="translate(597.90,328.80) scale(1.1,1)" text-anchor="middle">5,000</text>
<text transform="translate(35.65,335.35) scale(1.06,1)" text-anchor="middle">31056</text>
<text x="46.4" y="335.35">Arquitectura</text>
<text x="194.5" y="335.35">Barcelona</text>
<text transform="translate(267.80,335.35) scale(1.1,1)" text-anchor="middle">UPC</text>
<text transform="translate(299.05,335.35) scale(1.1,1)" text-anchor="middle">380</text>
<text transform="translate(338.25,335.35) scale(1.1,1)" text-anchor="middle">6,476</text>
<text transform="translate(375.60,335.35) scale(1.1,1)" text-anchor="middle">6,476</text>
<text transform="translate(412.75,335.35) scale(1.1,1)" text-anchor="middle">5,000</text>
<text transform="translate(449.85,335.35) scale(1.1,1)" text-anchor="middle">5,000</text>
<text transform="translate(486.90,335.35) scale(1.1,1)" text-anchor="middle">5,000</text>
<text transform="translate(523.85,335.35) scale(1.1,1)" text-anchor="middle">5,000</text>
<text transform="translate(560.85,335.35) scale(1.1,1)" text-anchor="middle">5,000</text>
<text transform="translate(597.90,335.35) scale(1.1,1)" text-anchor="middle">5,000</text>
<text transform="translate(35.65,342.25) scale(1.06,1)" text-anchor="middle">31064</text>
<text x="46.4" y="342.25">Arquitectura -Vallès-</text>
<text x="194.5" y="342.25">Sant Cugat del Vallès</text>
<text transform="translate(267.80,342.25) scale(1.1,1)" text-anchor="middle">UPC</text>
<text transform="translate(299.05,342.25) scale(1.1,1)" text-anchor="middle">60</text>
<text transform="translate(338.25,342.25) scale(1.1,1)" text-anchor="middle">5,000</text>
<text transform="translate(375.60,342.25) scale(1.1,1)" text-anchor="middle">5,000</text>
<text transform="translate(412.75,342.25) scale(1.1,1)" text-anchor="middle">5,000</text>
<text transform="translate(449.85,342.25) scale(1.1,1)" text-anchor="middle">5,000</text>
<text transform="translate(486.90,342.25) scale(1.1,1)" text-anchor="middle">5,000</text>
<text transform="translate(523.85,342.25) scale(1.1,1)" text-anchor="middle">5,000</text>
<text transform="translate(560.85,342.25) scale(1.1,1)" text-anchor="middle">5,000</text>
<text transform="translate(597.90,342.25) scale(1.1,1)" text-anchor="middle">5,000</text>
<text transform="translate(35.65,348.95) scale(1.06,1)" text-anchor="middle">61016</text>
<text x="46.4" y="348.95">Arquitectura tècnica - Ciències i tecnologies de l'edificació</text>
<text x="194.5" y="348.95">Lleida</text>
<text transform="translate(267.80,348.95) scale(1.1,1)" text-anchor="middle">UdL</text>
<text transform="translate(299.05,348.95) scale(1.1,1)" text-anchor="middle">55</text>
<text transform="translate(338.25,348.95) scale(1.1,1)" text-anchor="middle">5,000</text>
<text transform="translate(375.60,348.95) scale(1.1,1)" text-anchor="middle">5,000</text>
<text transform="translate(412.75,348.95) scale(1.1,1)" text-anchor="middle">5,000</text>
<text transform="translate(449.85,348.95) scale(1.1,1)" text-anchor="middle">5,000</text>
<text transform="translate(486.90,348.95) scale(1.1,1)" text-anchor="middle">5,000</text>
<text transform="translate(523.85,348.95) scale(1.1,1)" text-anchor="middle">5,000</text>
<text transform="translate(560.85,348.95) scale(1.1,1)" text-anchor="middle">5,000</text>
<text transform="translate(597.90,348.95) scale(1.1,1)" text-anchor="middle">5,000</text>
<text transform="translate(35.65,355.55) scale(1.06,1)" text-anchor="middle">81020</text>
<text x="46.4" y="355.55">Arquitectura tècnica - Ciències i tecnologies de l'edificació</text>
<text x="194.5" y="355.55">Girona</text>
<text transform="translate(267.80,355.55) scale(1.1,1)" text-anchor="middle">UdG</text>
<text transform="translate(299.05,355.55) scale(1.1,1)" text-anchor="middle">60</text>
<text transform="translate(338.25,355.55) scale(1.1,1)" text-anchor="middle">5,000</text>
<text transform="translate(375.60,355.55) scale(1.1,1)" text-anchor="middle">5,000</text>
<text transform="translate(412.75,355.55) scale(1.1,1)" text-anchor="middle">5,000</text>
<text transform="translate(449.85,355.55) scale(1.1,1)" text-anchor="middle">5,000</text>
<text transform="translate(486.90,355.55) scale(1.1,1)" text-anchor="middle">5,000</text>
<text transform="translate(523.85,355.55) scale(1.1,1)" text-anchor="middle">5,000</text>
<text transform="translate(560.85,355.55) scale(1.1,1)" text-anchor="middle">5,000</text>
<text transform="translate(597.90,355.55) scale(1.1,1)" text-anchor="middle">5,000</text>
<text transform="translate(35.65,362.25) scale(1.06,1)" text-anchor="middle">31016</text>
<text x="46.4" y="362.25">Arquitectura tècnica - Ciències i tecnologies de l'edificació</text>
<text x="194.5" y="362.25">Barcelona</text>
<text transform="translate(267.80,362.25) scale(1.1,1)" text-anchor="middle">UPC</text>
<text transform="translate(299.05,362.25) scale(1.1,1)" text-anchor="middle">250</text>
<text transform="translate(338.25,362.25) scale(1.1,1)" text-anchor="middle">5,000</text>
<text transform="translate(375.60,362.25) scale(1.1,1)" text-anchor="middle">5,000</text>
<text transform="translate(412.75,362.25) scale(1.1,1)" text-anchor="middle">5,000</text>
<text transform="translate(449.85,362.25) scale(1.1,1)" text-anchor="middle">5,000</text>
<text transform="translate(486.90,362.25) scale(1.1,1)" text-anchor="middle">5,000</text>
<text transform="translate(523.85,362.25) scale(1.1,1)" text-anchor="middle">5,000</text>
<text transform="translate(560.85,362.25) scale(1.1,1)" text-anchor="middle">5,000</text>
<text transform="translate(597.90,362.25) scale(1.1,1)" text-anchor="middle">5,000</text>
<text transform="translate(35.65,368.85) scale(1.06,1)" text-anchor="middle">31048</text>
<text x="46.4" y="368.85">Arquitectura tècnica - Ciències i tecnologies de l'edificació / febrer</text>
<text x="194.5" y="368.85">Barcelona</text>
<text transform="translate(267.80,368.85) scale(1.1,1)" text-anchor="middle">UPC</text>
<text transform="translate(299.05,368.85) scale(1.1,1)" text-anchor="middle">50</text>
<text transform="translate(338.25,368.85) scale(1.1,1)" text-anchor="middle">5,000</text>
<text transform="translate(375.60,368.85) scale(1.1,1)" text-anchor="middle">5,000</text>
<text transform="translate(412.75,368.85) scale(1.1,1)" text-anchor="middle">5,000</text>
<text transform="translate(449.85,368.85) scale(1.1,1)" text-anchor="middle">5,000</text>
<text transform="translate(486.90,368.85) scale(1.1,1)" text-anchor="middle">5,000</text>
<text transform="translate(523.85,368.85) scale(1.1,1)" text-anchor="middle">5,000</text>
<text transform="translate(560.85,368.85) scale(1.1,1)" text-anchor="middle">5,000</text>
<text transform="translate(597.90,368.85) scale(1.1,1)" text-anchor="middle">5,000</text>
<text transform="translate(35.65,375.30) scale(1.06,1)" text-anchor="middle">21020</text>
<text x="46.4" y="375.30">Arts i disseny "Massana"</text>
<text x="194.5" y="375.30">Barcelona</text>
<text transform="translate(267.80,375.30) scale(1.1,1)" text-anchor="middle">UAB</text>
<text transform="translate(299.05,375.30) scale(1.1,1)" text-anchor="middle">95</text>
<text transform="translate(338.25,375.30) scale(1.1,1)" text-anchor="middle">5,686</text>
<text transform="translate(375.60,375.30) scale(1.1,1)" text-anchor="middle">5,000</text>
<text transform="translate(412.75,375.30) scale(1.1,1)" text-anchor="middle">5,000</text>
<text transform="translate(449.85,375.30) scale(1.1,1)" text-anchor="middle">5,000</text>
<text transform="translate(486.90,375.30) scale(1.1,1)" text-anchor="middle">5,000</text>
<text transform="translate(523.85,375.30) scale(1.1,1)" text-anchor="middle">5,000</text>
<text transform="translate(560.85,375.30) scale(1.1,1)" text-anchor="middle">5,000</text>
<text transform="translate(597.90,375.30) scale(1.1,1)" text-anchor="middle">5,000</text>
<text transform="translate(35.65,382.00) scale(1.06,1)" text-anchor="middle">81005</text>
<text x="46.4" y="382.00">Audiovisual i multimèdia</text>
<text x="194.5" y="382.00">Salt</text>
<text transform="translate(267.80,382.00) scale(1.1,1)" text-anchor="middle">UdG</text>
<text transform="translate(299.05,382.00) scale(1.1,1)" text-anchor="middle">50</text>
<text transform="translate(338.25,382.00) scale(1.1,1)" text-anchor="middle">5,000</text>
<text transform="translate(375.60,382.00) scale(1.1,1)" text-anchor="middle">5,000</text>
<text transform="translate(412.75,382.00) scale(1.1,1)" text-anchor="middle">5,000</text>
<text transform="translate(449.85,382.00) scale(1.1,1)" text-anchor="middle">5,000</text>
<text transform="translate(486.90,382.00) scale(1.1,1)" text-anchor="middle">5,000</text>
<text transform="translate(523.85,382.00) scale(1.1,1)" text-anchor="middle">5,000</text>
<text transform="translate(560.85,382.00) scale(1.1,1)" text-anchor="middle">5,000</text>
<text transform="translate(597.90,382.00) scale(1.1,1)" text-anchor="middle">5,000</text>
<text transform="translate(35.65,388.90) scale(1.06,1)" text-anchor="middle">11053</text>
<text x="46.4" y="388.90">Belles arts</text>
<text x="194.5" y="388.90">Barcelona</text>
<text transform="translate(267.80,388.90) scale(1.1,1)" text-anchor="middle">UB</text>
<text transform="translate(299.05,388.90) scale(1.1,1)" text-anchor="middle">300</text>
<text transform="translate(338.25,388.90) scale(1.1,1)" text-anchor="middle">7,320</text>
<text transform="translate(375.60,388.90) scale(1.1,1)" text-anchor="middle">5,082</text>
<text transform="translate(412.75,388.90) scale(1.1,1)" text-anchor="middle">7,080</text>
<text transform="translate(449.85,388.90) scale(1.1,1)" text-anchor="middle">5,580</text>
<text transform="translate(486.90,388.90) scale(1.1,1)" text-anchor="middle">5,438</text>
<text transform="translate(523.85,388.90) scale(1.1,1)" text-anchor="middle">5,000</text>
<text transform="translate(560.85,388.90) scale(1.1,1)" text-anchor="middle">5,000</text>
<text transform="translate(597.90,388.90) scale(1.1,1)" text-anchor="middle">5,000</text>
<text transform="translate(35.65,395.50) scale(1.06,1)" text-anchor="middle">91018</text>
<text x="46.4" y="395.50">Biologia</text>
<text x="194.5" y="395.50">Vic</text>
<text transform="translate(267.80,395.50) scale(1.1,1)" text-anchor="middle">UVic</text>
<text transform="translate(299.05,395.50) scale(1.1,1)" text-anchor="middle">70</text>
<text transform="translate(338.25,395.50) scale(1.1,1)" text-anchor="middle">5,000</text>
<text transform="translate(375.60,395.50) scale(1.1,1)" text-anchor="middle">5,000</text>
<text transform="translate(412.75,395.50) scale(1.1,1)" text-anchor="middle">5,000</text>
<text transform="translate(449.85,395.50) scale(1.1,1)" text-anchor="middle">5,000</text>
<text transform="translate(486.90,395.50) scale(1.1,1)" text-anchor="middle">5,000</text>
<text transform="translate(523.85,395.50) scale(1.1,1)" text-anchor="middle">5,000</text>
<text transform="translate(560.85,395.50) scale(1.1,1)" text-anchor="middle">5,000</text>
<text transform="translate(597.90,395.50) scale(1.1,1)" text-anchor="middle">5,000</text>
<text transform="translate(35.65,402.20) scale(1.06,1)" text-anchor="middle">81006</text>
<text x="46.4" y="402.20">Biologia</text>
<text x="194.5" y="402.20">Girona</text>
<text transform="translate(267.80,402.20) scale(1.1,1)" text-anchor="middle">UdG</text>
<text transform="translate(299.05,402.20) scale(1.1,1)" text-anchor="middle">95</text>
<text transform="translate(338.25,402.20) scale(1.1,1)" text-anchor="middle">9,024</text>
<text transform="translate(375.60,402.20) scale(1.1,1)" text-anchor="middle">7,576</text>
<text transform="translate(412.75,402.20) scale(1.1,1)" text-anchor="middle">5,000</text>
<text transform="translate(449.85,402.20) scale(1.1,1)" text-anchor="middle">5,000</text>
<text transform="translate(486.90,402.20) scale(1.1,1)" text-anchor="middle">5,420</text>
<text transform="translate(523.85,402.20) scale(1.1,1)" text-anchor="middle">5,420</text>
<text transform="translate(560.85,402.20) scale(1.1,1)" text-anchor="middle">5,000</text>
<text transform="translate(597.90,402.20) scale(1.1,1)" text-anchor="middle">5,000</text>
<text transform="translate(35.65,408.97) scale(1.06,1)" text-anchor="middle">21009</text>
<text x="46.4" y="408.97">Biologia</text>
<text x="194.5" y="408.97">Cerdanyola del Vallès</text>
<text transform="translate(267.80,408.97) scale(1.1,1)" text-anchor="middle">UAB</text>
<text transform="translate(299.05,408.97) scale(1.1,1)" text-anchor="middle">80</text>
<text transform="translate(338.25,408.97) scale(1.1,1)" text-anchor="middle">10,400</text>
<text transform="translate(375.60,408.97) scale(1.1,1)" text-anchor="middle">10,144</text>
<text transform="translate(412.75,408.97) scale(1.1,1)" text-anchor="middle">5,000</text>
<text transform="translate(449.85,408.97) scale(1.1,1)" text-anchor="middle">5,000</text>
<text transform="translate(486.90,408.97) scale(1.1,1)" text-anchor="middle">6,188</text>
<text transform="translate(523.85,408.97) scale(1.1,1)" text-anchor="middle">6,188</text>
<text transform="translate(560.85,408.97) scale(1.1,1)" text-anchor="middle">5,000</text>
<text transform="translate(597.90,408.97) scale(1.1,1)" text-anchor="middle">5,000</text>
<text transform="translate(35.65,415.53) scale(1.06,1)" text-anchor="middle">11002</text>
<text x="46.4" y="415.53">Biologia</text>
<text x="194.5" y="415.53">Barcelona</text>
<text transform="translate(267.80,415.53) scale(1.1,1)" text-anchor="middle">UB</text>
<text transform="translate(299.05,415.53) scale(1.1,1)" text-anchor="middle">160</text>
<text transform="translate(338.25,415.53) scale(1.1,1)" text-anchor="middle">10,540</text>
<text transform="translate(375.60,415.53) scale(1.1,1)" text-anchor="middle">10,230</text>
<text transform="translate(412.75,415.53) scale(1.1,1)" text-anchor="middle">6,630</text>
<text transform="translate(449.85,415.53) scale(1.1,1)" text-anchor="middle">6,630</text>
<text transform="translate(486.90,415.53) scale(1.1,1)" text-anchor="middle">5,188</text>
<text transform="translate(523.85,415.53) scale(1.1,1)" text-anchor="middle">5,000</text>
<text transform="translate(560.85,415.53) scale(1.1,1)" text-anchor="middle">5,000</text>
<text transform="translate(597.90,415.53) scale(1.1,1)" text-anchor="middle">5,000</text>
<text transform="translate(35.65,422.10) scale(1.06,1)" text-anchor="middle">81047</text>
<text x="46.4" y="422.10">Biologia / Biotecnologia</text>
<text x="194.5" y="422.10">Girona</text>
<text transform="translate(267.80,422.10) scale(1.1,1)" text-anchor="middle">UdG</text>
<text transform="translate(299.05,422.10) scale(1.1,1)" text-anchor="middle">10</text>
<text transform="translate(338.25,422.10) scale(1.1,1)" text-anchor="middle">10,790</text>
<text transform="translate(375.60,422.10) scale(1.1,1)" text-anchor="middle">10,718</text>
<text transform="translate(412.75,422.10) scale(1.1,1)" text-anchor="middle">5,000</text>
<text transform="translate(449.85,422.10) scale(1.1,1)" text-anchor="middle">5,000</text>
<text transform="translate(486.90,422.10) scale(1.1,1)" text-anchor="middle">5,000</text>
<text transform="translate(523.85,422.10) scale(1.1,1)" text-anchor="middle">5,000</text>
<text transform="translate(560.85,422.10) scale(1.1,1)" text-anchor="middle">5,000</text>
<text transform="translate(597.90,422.10) scale(1.1,1)" text-anchor="middle">5,000</text>
<text transform="translate(35.65,428.65) scale(1.06,1)" text-anchor="middle">81048</text>
<text x="46.4" y="428.65">Biologia / Ciències ambientals</text>
<text x="194.5" y="428.65">Girona</text>
<text transform="translate(267.80,428.65) scale(1.1,1)" text-anchor="middle">UdG</text>
<text transform="translate(299.05,428.65) scale(1.1,1)" text-anchor="middle">10</text>
<text transform="translate(338.25,428.65) scale(1.1,1)" text-anchor="middle">9,034</text>
<text transform="translate(375.60,428.65) scale(1.1,1)" text-anchor="middle">9,024</text>
<text transform="translate(412.75,428.65) scale(1.1,1)" text-anchor="middle">5,000</text>
<text transform="translate(449.85,428.65) scale(1.1,1)" text-anchor="middle">5,000</text>
<text transform="translate(486.90,428.65) scale(1.1,1)" text-anchor="middle">5,000</text>
<text transform="translate(523.85,428.65) scale(1.1,1)" text-anchor="middle">5,000</text>
<text transform="translate(560.85,428.65) scale(1.1,1)" text-anchor="middle">5,000</text>
<text transform="translate(597.90,428.65) scale(1.1,1)" text-anchor="middle">5,000</text>
</g>
<g>
<path d="M24.7 10.9 L27.6 10.9 Q26.4 17 27.6 23.1 L24.7 23.1 Z" fill="#6a6a6a"/>
<path d="M25.6 11.2 Q27.0 17 25.6 22.8" stroke="#2a2a2a" stroke-width="1.1" fill="none"/>
<rect x="28.8" y="10.9" width="1.2" height="12.2" fill="#222"/>
<rect x="30.9" y="10.9" width="1.2" height="12.2" fill="#222"/>
<path d="M36.2 10.9 L33.2 10.9 Q34.4 17 33.2 23.1 L36.2 23.1 Z" fill="#6a6a6a"/>
<path d="M35.2 11.2 Q33.8 17 35.2 22.8" stroke="#2a2a2a" stroke-width="1.1" fill="none"/>
</g>
<text x="38.9" y="16.8" style="font-family:'Liberation Sans',sans-serif" fill="#555" font-size="6.95">Generalitat de Catalunya</text>
<text x="38.9" y="23.3" style="font-family:'Liberation Sans',sans-serif;font-weight:bold" fill="#1a1a1a" font-size="6.9">Consell Interuniversitari de Catalunya</text>
<text x="38.9" y="30.1" style="font-family:'Liberation Sans',sans-serif" fill="#777" font-size="4.68">Oficina d'Orientació per a l'Accés a la Universitat</text>
<text x="319.6" y="450.2" style="font-family:'Liberation Sans',sans-serif" fill="#222" font-size="4.4" text-anchor="middle">1</text>
</svg>
</body></html>
